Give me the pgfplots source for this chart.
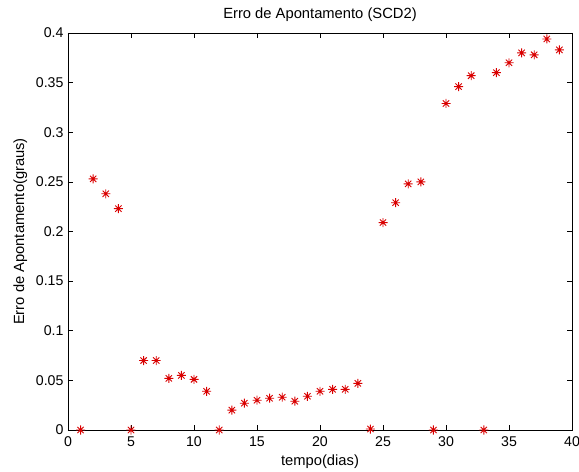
\documentclass[border=0pt]{standalone}
\usepackage{fontspec}
\setmainfont{Liberation Sans}
\usepackage{pgfplots}
\pgfplotsset{compat=1.18}

% MATLAB style '*' marker: plus and cross together
\pgfdeclareplotmark{mstar}{%
  \pgfpathmoveto{\pgfqpoint{-\pgfplotmarksize}{0pt}}%
  \pgfpathlineto{\pgfqpoint{\pgfplotmarksize}{0pt}}%
  \pgfpathmoveto{\pgfqpoint{0pt}{-\pgfplotmarksize}}%
  \pgfpathlineto{\pgfqpoint{0pt}{\pgfplotmarksize}}%
  \pgfpathmoveto{\pgfqpoint{-.7\pgfplotmarksize}{-.7\pgfplotmarksize}}%
  \pgfpathlineto{\pgfqpoint{.7\pgfplotmarksize}{.7\pgfplotmarksize}}%
  \pgfpathmoveto{\pgfqpoint{-.7\pgfplotmarksize}{.7\pgfplotmarksize}}%
  \pgfpathlineto{\pgfqpoint{.7\pgfplotmarksize}{-.7\pgfplotmarksize}}%
  \pgfusepathqstroke}

\begin{document}
\begin{tikzpicture}
\begin{axis}[
    scale only axis,
    width=504bp, height=397bp,
    xmin=0, xmax=40, ymin=0, ymax=0.4,
    xtick={0,5,10,15,20,25,30,35,40},
    ytick={0,0.05,0.1,0.15,0.2,0.25,0.3,0.35,0.4},
    xtick pos=both, ytick pos=both,
    tick align=inside,
    major tick length=5bp,
    axis line style={black, line width=0.7bp},
    tick style={black, line width=0.7bp},
    font=\fontsize{14.8}{17}\selectfont,
    tick label style={font=\fontsize{14.2}{17}\selectfont},
    /pgf/number format/assume math mode=true,
    /pgf/number format/fixed,
    /pgf/number format/precision=2,
    yticklabel style={xshift=-1bp},
    xticklabel style={yshift=-3bp},
    title={Erro de Apontamento (SCD2)},
    title style={at={(axis description cs:0.5,1.0227)}, anchor=base, inner sep=0pt},
    xlabel={tempo(dias)},
    xlabel style={at={(axis description cs:0.5,-0.0882)}, anchor=base, inner sep=0pt},
    ylabel={Erro de Apontamento(graus)},
    ylabel style={at={(axis description cs:-0.0873,0.5)}, anchor=base, inner sep=0pt},
]
\addplot[only marks, mark=mstar, mark size=4.5bp, color=red!85!black, line width=0.9bp]
coordinates {
(1,0) (2,0.253) (3,0.238) (4,0.223) (5,0) (6,0.070) (7,0.070) (8,0.052)
(9,0.055) (10,0.051) (11,0.039) (12,0) (13,0.020) (14,0.027) (15,0.030)
(16,0.032) (17,0.033) (18,0.029) (19,0.034) (20,0.039) (21,0.041)
(22,0.041) (23,0.047) (24,0.001) (25,0.209) (26,0.229) (27,0.248)
(28,0.250) (29,0) (30,0.329) (31,0.346) (32,0.357) (33,0) (34,0.360)
(35,0.370) (36,0.380) (37,0.378) (38,0.394) (39,0.383)
};
\end{axis}
\pgfresetboundingbox
\path ([shift={(-68bp,-42bp)}]current axis.south west) rectangle ([shift={(7bp,33bp)}]current axis.north east);
\end{tikzpicture}
\end{document}
